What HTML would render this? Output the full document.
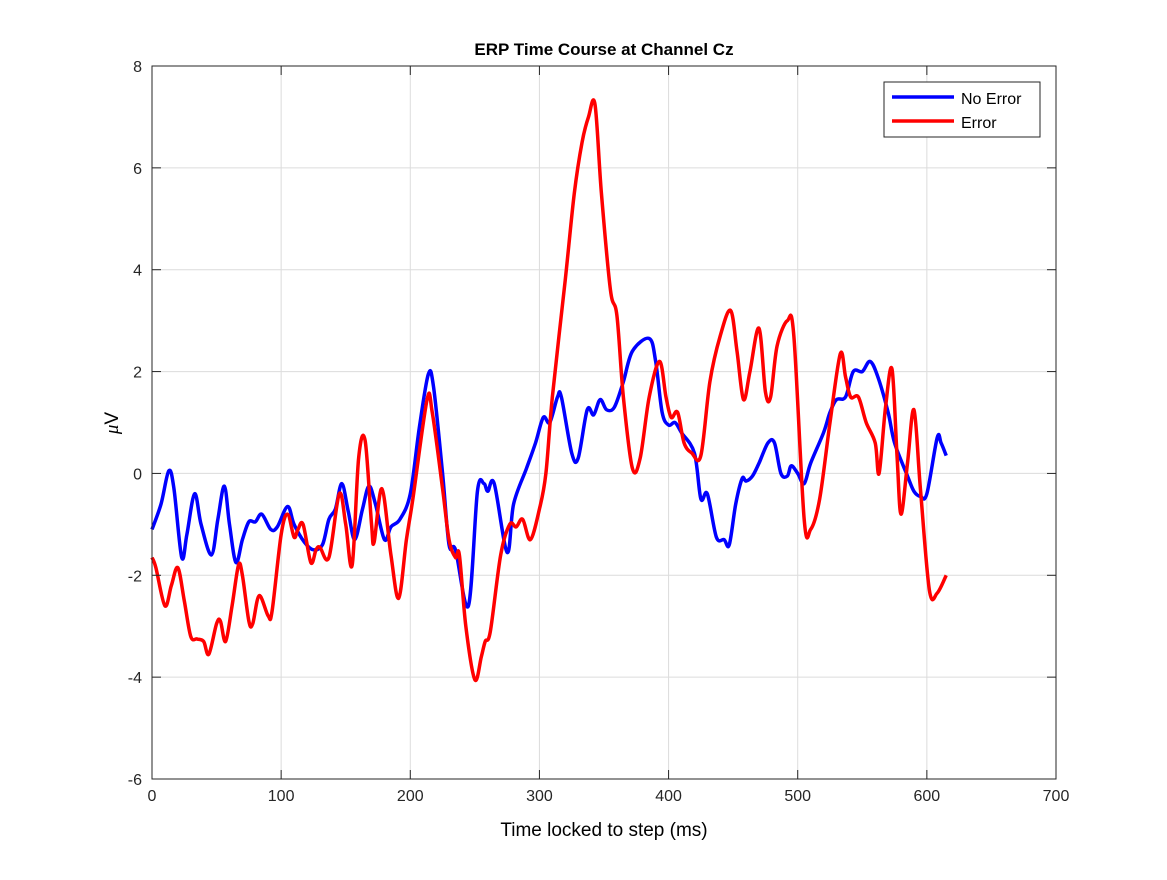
<!DOCTYPE html>
<html><head><meta charset="utf-8"><style>
body{margin:0;background:#fff;font-family:"Liberation Sans",Arial,sans-serif}
svg text{font-family:"Liberation Sans",Arial,sans-serif}
</style></head><body>
<svg id="chart" width="1167" height="875">
<g id="grid"></g>
<g id="series"></g>
<rect x="152" y="66" width="904" height="713" fill="none" stroke="#262626" stroke-width="1"/>
<g id="ticks"></g>
<text x="604" y="55" text-anchor="middle" font-size="17" font-weight="bold" fill="#000">ERP Time Course at Channel Cz</text>
<text x="604" y="836" text-anchor="middle" font-size="19" fill="#000">Time locked to step (ms)</text>
<text transform="translate(118,423) rotate(-90)" text-anchor="middle" font-size="19" fill="#000"><tspan font-family="Liberation Serif" font-style="italic">μ</tspan>V</text>
<g>
<rect x="884" y="82" width="156" height="55" fill="#fff" stroke="#262626" stroke-width="1"/>
<line x1="892" y1="97" x2="954" y2="97" stroke="#0000ff" stroke-width="3.5"/>
<text x="961" y="104" font-size="16" fill="#000">No Error</text>
<line x1="892" y1="121" x2="954" y2="121" stroke="#ff0000" stroke-width="3.5"/>
<text x="961" y="128" font-size="16" fill="#000">Error</text>
</g>
</svg>
<script>
const xTicks=[0,100,200,300,400,500,600,700];
const yTicks=[-6,-4,-2,0,2,4,6,8];
const blueT=[0,7,13,17,23,27,33,38,46,51,56,60,65,70,75,80,85,92,97,105,110,118,125,132,137,142,147,152,157,163,168,173,180,185,192,200,207,214,218,225,230,235,245,252,257,260,265,275,280,290,297,303,308,314,317,325,330,337,342,347,352,358,365,372,385,390,395,400,405,410,420,425,430,437,443,447,452,457,460,465,470,477,482,487,492,495,500,505,510,520,525,530,537,543,550,556,562,570,575,585,590,595,600,608,611,615];
const blueV=[-1.1,-0.6,0.05,-0.3,-1.65,-1.2,-0.4,-1.0,-1.6,-0.9,-0.25,-1.0,-1.75,-1.3,-0.95,-0.95,-0.8,-1.1,-1.05,-0.65,-1.0,-1.35,-1.5,-1.4,-0.9,-0.7,-0.2,-0.75,-1.3,-0.7,-0.25,-0.6,-1.3,-1.05,-0.9,-0.4,0.9,1.95,1.7,0.0,-1.4,-1.5,-2.6,-0.35,-0.2,-0.35,-0.2,-1.55,-0.6,0.1,0.6,1.1,1.0,1.5,1.5,0.4,0.3,1.25,1.15,1.45,1.25,1.3,1.8,2.4,2.65,2.2,1.2,0.95,1.0,0.8,0.4,-0.5,-0.4,-1.25,-1.3,-1.4,-0.6,-0.1,-0.15,-0.05,0.2,0.6,0.6,0.0,-0.05,0.15,0.0,-0.2,0.2,0.8,1.2,1.45,1.5,2.0,2.0,2.2,1.9,1.2,0.6,-0.05,-0.35,-0.45,-0.4,0.7,0.6,0.35];
const redT=[0,3,10,15,20,25,30,35,40,44,50,53,57,62,67,70,75,78,83,90,93,100,105,110,113,117,123,127,130,137,145,150,155,160,165,170,172,178,185,191,197,202,213,217,225,230,235,238,243,250,255,258,262,270,277,282,287,293,300,305,310,320,327,333,338,343,348,355,360,365,372,378,385,393,398,402,407,412,418,425,432,440,448,453,458,463,470,475,479,484,492,497,505,510,517,525,533,537,541,547,553,560,563,568,573,577,580,585,590,595,602,608,615];
const redV=[-1.65,-1.85,-2.6,-2.2,-1.85,-2.5,-3.2,-3.25,-3.3,-3.55,-2.95,-2.9,-3.3,-2.6,-1.8,-2.0,-2.9,-2.95,-2.4,-2.8,-2.7,-1.2,-0.8,-1.25,-1.1,-1.0,-1.75,-1.5,-1.45,-1.65,-0.4,-1.0,-1.8,0.3,0.65,-1.0,-1.35,-0.3,-1.6,-2.45,-1.3,-0.5,1.45,1.2,-0.3,-1.3,-1.65,-1.6,-3.0,-4.05,-3.6,-3.3,-3.1,-1.6,-1.0,-1.05,-0.9,-1.3,-0.7,0.0,1.5,3.8,5.5,6.5,7.0,7.25,5.5,3.6,3.1,1.5,0.1,0.3,1.5,2.2,1.5,1.1,1.2,0.6,0.4,0.35,1.8,2.7,3.2,2.4,1.45,2.0,2.85,1.6,1.5,2.5,3.0,2.7,-0.9,-1.1,-0.5,1.0,2.35,1.9,1.5,1.5,1.0,0.6,0.0,1.3,2.05,0.3,-0.8,0.2,1.25,-0.3,-2.3,-2.35,-2.0];
const NS='http://www.w3.org/2000/svg';
const X0=152,X1=1056,Y0=779,Y1=66;
function xs(v){return X0+(v-0)/(700-0)*(X1-X0);}
function ys(v){return Y0-(v-(-6))/(8-(-6))*(Y0-Y1);}
const grid=document.getElementById('grid'),ticks=document.getElementById('ticks'),ser=document.getElementById('series');
function mk(tag,attrs,parent){const e=document.createElementNS(NS,tag);for(const k in attrs)e.setAttribute(k,attrs[k]);parent.appendChild(e);return e;}
xTicks.forEach(t=>{const x=xs(t);
 const g=mk('line',{x1:x,x2:x,y1:Y1,y2:Y0,stroke:'#dcdcdc','stroke-width':1},grid);
 
 
 const a=mk('line',{x1:x,x2:x,y1:Y0,y2:Y0-9,stroke:'#262626'},ticks);
 
 
 const b=mk('line',{x1:x,x2:x,y1:Y1,y2:Y1+9,stroke:'#262626'},ticks);
 
 
 const l=mk('text',{x:x,y:Y0+22,'text-anchor':'middle','font-size':16,fill:'#262626'},ticks);l.textContent=t;
 
 
});
yTicks.forEach(t=>{const y=ys(t);
 const g=mk('line',{x1:X0,x2:X1,y1:y,y2:y,stroke:'#dcdcdc','stroke-width':1},grid);
 
 
 const a=mk('line',{x1:X0,x2:X0+9,y1:y,y2:y,stroke:'#262626'},ticks);
 
 
 const b=mk('line',{x1:X1,x2:X1-9,y1:y,y2:y,stroke:'#262626'},ticks);
 
 
 const l=mk('text',{x:X0-10,y:y+6,'text-anchor':'end','font-size':16,fill:'#262626'},ticks);l.textContent=t;
 
 
});
function pathFor(T,V){const p=T.map((t,i)=>[xs(t),ys(V[i])]);let d='M'+p[0][0]+','+p[0][1];
 for(let i=0;i<p.length-1;i++){const p0=p[i-1]||p[i],p1=p[i],p2=p[i+1],p3=p[i+2]||p2;
  const c1=[p1[0]+(p2[0]-p0[0])/6,p1[1]+(p2[1]-p0[1])/6],c2=[p2[0]-(p3[0]-p1[0])/6,p2[1]-(p3[1]-p1[1])/6];
  d+=`C${c1[0]},${c1[1]} ${c2[0]},${c2[1]} ${p2[0]},${p2[1]}`;}
 return d;}
const pb=mk('path',{d:pathFor(blueT,blueV),fill:'none',stroke:'#0000ff','stroke-width':3.5,'stroke-linejoin':'round'},ser);


const pr=mk('path',{d:pathFor(redT,redV),fill:'none',stroke:'#ff0000','stroke-width':3.5,'stroke-linejoin':'round'},ser);


</script>
</body></html>
